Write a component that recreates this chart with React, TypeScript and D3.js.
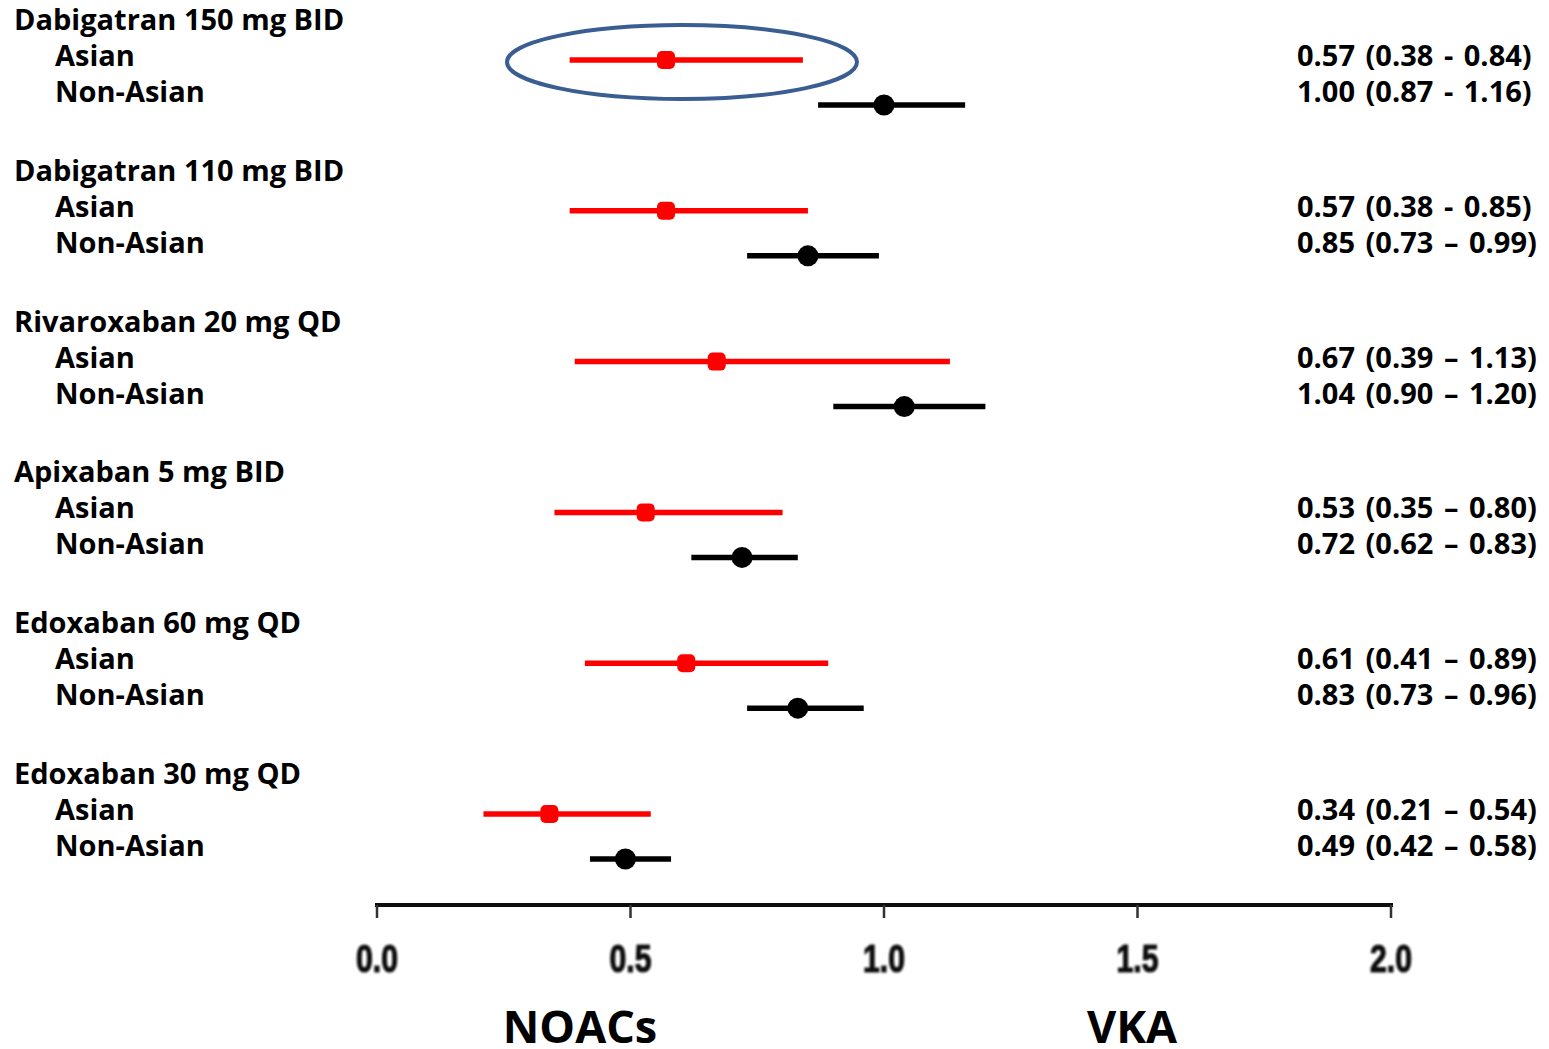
import React from "react";
import * as d3 from "d3";

// Hazard ratios (NOAC vs VKA) by drug regimen and population
const regimens = [
  "Dabigatran 150 mg BID",
  "Dabigatran 110 mg BID",
  "Rivaroxaban 20 mg QD",
  "Apixaban 5 mg BID",
  "Edoxaban 60 mg QD",
  "Edoxaban 30 mg QD",
];
const asianHR = [0.57, 0.57, 0.67, 0.53, 0.61, 0.34];
const asianLo = [0.38, 0.38, 0.39, 0.35, 0.41, 0.21];
const asianHi = [0.84, 0.85, 1.13, 0.8, 0.89, 0.54];
const nonAsianHR = [1.0, 0.85, 1.04, 0.72, 0.83, 0.49];
const nonAsianLo = [0.87, 0.73, 0.9, 0.62, 0.73, 0.42];
const nonAsianHi = [1.16, 0.99, 1.2, 0.83, 0.96, 0.58];
// separator used in each printed interval
const asianSep = ["-", "-", "–", "–", "–", "–"];
const nonAsianSep = ["-", "–", "–", "–", "–", "–"];
const xTicks = [0, 0.5, 1, 1.5, 2];
const groupLabels = ["Asian", "Non-Asian"];
const sideLabels = ["NOACs", "VKA"];

const W = 1549;
const H = 1049;
const FONT = "'Open Sans', 'Noto Sans', sans-serif";

export default function App() {
  const x = d3.scaleLinear().domain([0, 2]).range([377, 1391]);
  const y = d3.scaleLinear().domain([0, regimens.length - 1]).range([60, 814]);
  const axisY = 905;
  const subGap = 45;

  const fmt = (v: number) => v.toFixed(2);

  return (
    <div style={{ position: "absolute", left: 0, top: 0 }}>
      <svg width={W} height={H} style={{ display: "block", background: "#fff" }}>
        <defs>
          <filter id="soft" x="-5%" y="-50%" width="110%" height="200%">
            <feGaussianBlur stdDeviation="0.7" />
          </filter>
          <filter id="softer" x="-10%" y="-20%" width="120%" height="140%">
            <feGaussianBlur stdDeviation="0.9" />
          </filter>
        </defs>

        {/* reference line at HR = 1 */}
        <line x1={x(1)} x2={x(1)} y1={0} y2={axisY} stroke="#111" strokeWidth={4} filter="url(#soft)" />

        {/* x axis */}
        <g filter="url(#soft)">
          <line x1={x(0) - 2} x2={x(2) + 2} y1={axisY} y2={axisY} stroke="#111" strokeWidth={4} />
          {xTicks.map((t) => (
            <line key={t} x1={x(t)} x2={x(t)} y1={axisY} y2={axisY + 13} stroke="#333" strokeWidth={2.5} />
          ))}
        </g>
        <g filter="url(#softer)">
          {xTicks.map((t) => (
            <text
              key={t}
              x={x(t)}
              y={972}
              textAnchor="middle"
              fontFamily="'Liberation Sans', Arial, sans-serif"
              fontWeight="bold"
              fontSize={38}
              textLength={42}
              lengthAdjust="spacingAndGlyphs"
              fill="#111"
              stroke="#111"
              strokeWidth={1.2}
            >
              {t.toFixed(1)}
            </text>
          ))}
        </g>

        {/* confidence intervals and point estimates */}
        <g filter="url(#soft)">
          {regimens.map((r, i) => {
            const ya = y(i);
            const yn = y(i) + subGap;
            const s = 9;
            return (
              <g key={r}>
                <line x1={x(asianLo[i])} x2={x(asianHi[i])} y1={ya} y2={ya} stroke="#ff0000" strokeWidth={5.5} />
                <rect x={x(asianHR[i]) - s} y={ya - s} width={2 * s} height={2 * s} rx={5} fill="#ff0000" />
                <line x1={x(nonAsianLo[i])} x2={x(nonAsianHi[i])} y1={yn} y2={yn} stroke="#000" strokeWidth={5.5} />
                <circle cx={x(nonAsianHR[i])} cy={yn} r={10.5} fill="#000" />
              </g>
            );
          })}
        </g>

        {/* highlight around the first Asian estimate */}
        <ellipse cx={682} cy={62} rx={175} ry={37} fill="none" stroke="#3a5e92" strokeWidth={4} />

        {/* row labels and printed estimates */}
        <g fontFamily={FONT} fontWeight="bold" fontSize={29} fill="#000">
          {regimens.map((r, i) => {
            const ya = y(i) + 6;
            const yn = ya + 36;
            return (
              <g key={r}>
                <text x={14} y={ya - 36}>{r}</text>
                <text x={55} y={ya}>{groupLabels[0]}</text>
                <text x={55} y={yn}>{groupLabels[1]}</text>
                <text x={1297} y={ya} wordSpacing={3} style={{ whiteSpace: "pre" }}>
                  {`${fmt(asianHR[i])} (${fmt(asianLo[i])} ${asianSep[i]} ${fmt(asianHi[i])})`}
                </text>
                <text x={1297} y={yn} wordSpacing={3} style={{ whiteSpace: "pre" }}>
                  {`${fmt(nonAsianHR[i])} (${fmt(nonAsianLo[i])} ${nonAsianSep[i]} ${fmt(nonAsianHi[i])})`}
                </text>
              </g>
            );
          })}
        </g>

        {/* direction labels */}
        <g fontFamily={FONT} fontWeight="bold" fontSize={45} fill="#000" textAnchor="middle">
          <text x={580} y={1043}>{sideLabels[0]}</text>
          <text x={1132} y={1043}>{sideLabels[1]}</text>
        </g>
      </svg>
    </div>
  );
}
